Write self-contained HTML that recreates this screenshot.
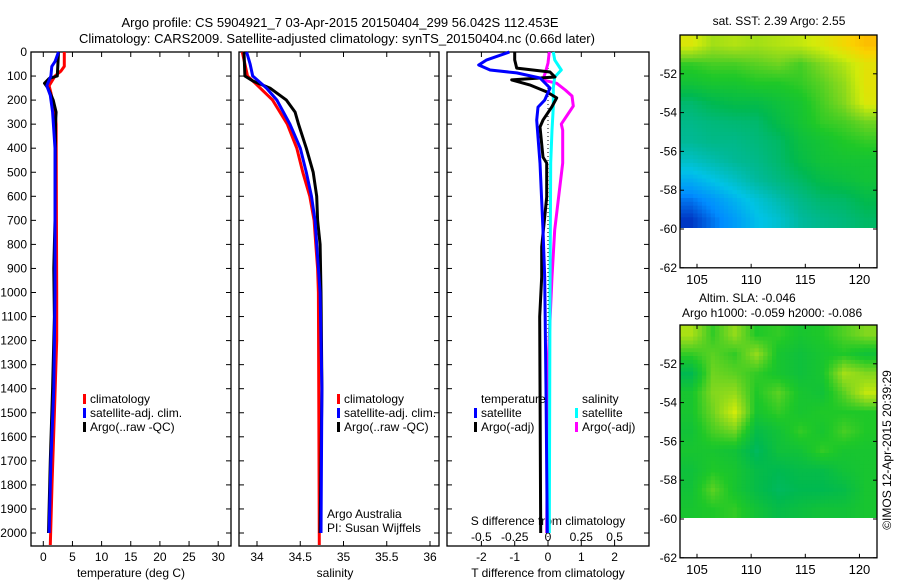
<!DOCTYPE html>
<html><head><meta charset="utf-8"><style>
html,body{margin:0;padding:0;background:#fff;}
svg{display:block;font-family:"Liberation Sans",sans-serif;}
</style></head><body>
<svg id="fig" width="900" height="580" viewBox="0 0 900 580">
<defs>
<clipPath id="c1"><rect x="680" y="35" width="197" height="193"/></clipPath>
<clipPath id="c2"><rect x="680" y="325" width="197" height="193"/></clipPath>
</defs>
<text x="340" y="27" font-size="13" text-anchor="middle">Argo profile: CS 5904921_7 03-Apr-2015 20150404_299 56.042S 112.453E</text>
<text x="337" y="43" font-size="13" text-anchor="middle">Climatology: CARS2009. Satellite-adjusted climatology: synTS_20150404.nc (0.66d later)</text>
<g id="axes"></g>
<g id="marks"></g>
<g id="maps"></g>
<text transform="translate(891,450) rotate(-90)" font-size="12" text-anchor="middle">©IMOS 12-Apr-2015 20:39:29</text>
</svg>
<script>
// ---- Panel 1: temperature
const tDepthClim=[0,60,80,100,140,170,250,300,1000,1200,1500,1800,2050];
const tClim=[3.6,3.6,3.0,2.0,1.0,1.3,2.0,2.2,2.3,2.3,1.9,1.5,1.2];
const tDepthSat=[0,40,60,100,140,180,250,400,1000,1400,1700,2000];
const tSat=[2.6,2.0,1.45,1.3,0.6,1.2,1.6,2.0,2.0,1.8,1.3,1.0];
const tDepthArgo=[0,50,100,110,130,150,200,250,300,700,900,1100,1400,1700,2000];
const tArgo=[2.6,2.5,2.4,1.0,0.2,0.8,1.7,2.2,2.1,2.0,1.8,1.9,1.6,1.2,0.9];
// ---- Panel 2: salinity
const sDepthClim=[0,100,130,200,300,400,500,600,700,800,900,1000,2050];
const sClim=[33.83,33.89,33.98,34.18,34.35,34.46,34.53,34.61,34.66,34.68,34.70,34.71,34.72];
const sDepthSat=[0,50,100,150,200,300,400,500,600,700,800,1000,1400,2000];
const sSat=[33.88,33.92,33.95,34.11,34.23,34.38,34.50,34.57,34.63,34.67,34.69,34.73,34.75,34.74];
const sDepthArgo=[0,100,120,150,200,250,300,400,500,600,700,800,1000,1400,2000];
const sArgo=[33.85,33.86,33.95,34.15,34.34,34.44,34.48,34.57,34.65,34.69,34.70,34.73,34.74,34.75,34.73];
// ---- Panel 3: differences
const dDepthTSat=[0,33,54,75,87,108,150,200,229,283,462,740,935,1400,2000];
const dTSat=[-1.16,-1.84,-2.08,-1.74,-0.94,-0.24,0.06,-0.1,-0.3,-0.34,-0.24,-0.15,-0.1,-0.06,-0.02];
const dDepthTArgo=[0,33,67,83,104,116,137,166,191,229,283,312,437,462,603,810,935,1100,2000];
const dTArgo=[-1.0,-1.0,-0.94,0.06,0.21,-1.09,-0.55,-0.04,0.26,0.11,-0.15,-0.24,-0.15,-0.04,-0.04,-0.19,-0.19,-0.25,-0.22];
const dDepthSSat=[0,33,75,104,150,229,325,462,1000,2000];
const dSSat=[0.04,0.05,0.10,0.05,0.04,0.04,0.03,0.02,0.015,0.01];
const dDepthSArgo=[0,46,87,116,130,158,183,225,258,300,325,462,600,740,935,1300,2000];
const dSArgo=[0.01,0.0,-0.02,-0.04,0.065,0.13,0.18,0.19,0.15,0.10,0.11,0.11,0.08,0.05,0.03,0.0,-0.01];
// ---- Map grids (rows -50..-60 by 1 deg, 9 lon columns)
const sstGrid=[
[0.82,0.74,0.76,0.74,0.76,0.78,0.82,0.88,0.94],
[0.62,0.64,0.64,0.66,0.68,0.64,0.70,0.76,0.84],
[0.56,0.58,0.58,0.60,0.60,0.62,0.66,0.72,0.84],
[0.46,0.50,0.52,0.52,0.55,0.58,0.64,0.70,0.82],
[0.42,0.44,0.45,0.46,0.52,0.57,0.62,0.64,0.68],
[0.40,0.42,0.42,0.44,0.47,0.54,0.57,0.60,0.62],
[0.34,0.37,0.40,0.42,0.46,0.52,0.56,0.57,0.57],
[0.26,0.30,0.34,0.39,0.43,0.47,0.52,0.54,0.56],
[0.18,0.22,0.27,0.32,0.37,0.42,0.46,0.47,0.51],
[0.13,0.18,0.23,0.29,0.33,0.39,0.42,0.44,0.47]];
const slaGrid=[
[0.75,0.62,0.72,0.60,0.62,0.58,0.60,0.65,0.70],
[0.62,0.66,0.62,0.72,0.58,0.55,0.58,0.60,0.56],
[0.50,0.68,0.66,0.62,0.58,0.55,0.58,0.74,0.70],
[0.58,0.70,0.72,0.60,0.66,0.58,0.56,0.66,0.78],
[0.58,0.68,0.80,0.58,0.62,0.58,0.60,0.60,0.60],
[0.56,0.64,0.68,0.52,0.56,0.62,0.58,0.64,0.60],
[0.58,0.58,0.56,0.48,0.55,0.56,0.62,0.58,0.58],
[0.55,0.60,0.58,0.52,0.50,0.52,0.52,0.56,0.58],
[0.56,0.66,0.58,0.52,0.48,0.50,0.50,0.52,0.58],
[0.58,0.60,0.62,0.56,0.52,0.54,0.56,0.56,0.58]];
const depthTicks=[0,100,200,300,400,500,600,700,800,900,1000,1100,1200,1300,1400,1500,1600,1700,1800,1900,2000];
const tTicks=[0,5,10,15,20,25,30];
const sTicks=[34,34.5,35,35.5,36];
const dTTicks=[-2,-1,0,1,2];
const dSTicks=[-0.5,-0.25,0,0.25,0.5];
const latTicks=[-52,-54,-56,-58,-60,-62];
const lonTicks=[105,110,115,120];

const NS='http://www.w3.org/2000/svg';
const axes=document.getElementById('axes'),marks=document.getElementById('marks'),maps=document.getElementById('maps');
function mk(tag,attrs,parent){const e=document.createElementNS(NS,tag);for(const k in attrs)e.setAttribute(k,attrs[k]);parent.appendChild(e);return e;}
const TOP=52,BOT=546;
const yD=d=>TOP+0.2405*d;
const xT=v=>43.3+5.83*v;
const xS=v=>257+86.5*(v-34);
const xDT=v=>548+33.3*v;
const xDS=v=>548+133.2*v;
const panels=[{l:31,r:231},{l:239,r:439},{l:447,r:649}];
panels.forEach((p,i)=>{
  const f=mk('rect',{x:p.l,y:TOP,width:p.r-p.l,height:BOT-TOP,fill:'none',stroke:'#000','stroke-width':1.3},axes);
  
  
  depthTicks.forEach(d=>{
    mk('line',{x1:p.l,x2:p.l+5,y1:yD(d),y2:yD(d),stroke:'#000'},axes);
    mk('line',{x1:p.r,x2:p.r-5,y1:yD(d),y2:yD(d),stroke:'#000'},axes);
  });
});
depthTicks.forEach(d=>{
  const t=mk('text',{x:27,y:yD(d)+4,'font-size':12,'text-anchor':'end'},axes);
  t.textContent=d;
  
  
});
function xticks(vals,fx,labels,ly,name){
  vals.forEach((v,i)=>{
    const x=fx(v);
    mk('line',{x1:x,x2:x,y1:TOP,y2:TOP+5,stroke:'#000'},axes);
    mk('line',{x1:x,x2:x,y1:BOT,y2:BOT-5,stroke:'#000'},axes);
    if(labels){const t=mk('text',{x:x,y:ly,'font-size':12,'text-anchor':'middle'},axes);t.textContent=labels[i];
      
      }
  });
}
xticks(tTicks,xT,tTicks,561,'temperature-tick-label');
xticks(sTicks,xS,sTicks,561,'salinity-tick-label');
xticks(dTTicks,xDT,dTTicks,561,'t-diff-tick-label');
dSTicks.forEach(v=>{const t=mk('text',{x:xDS(v),y:541,'font-size':12,'text-anchor':'middle'},axes);t.textContent=v;
  
  });
function label(x,y,s,name,anchor){const t=mk('text',{x:x,y:y,'font-size':12,'text-anchor':anchor||'middle'},axes);t.textContent=s;
  
  return t;}
label(131,577,'temperature (deg C)','x-axis-title-temperature');
label(335,577,'salinity','x-axis-title-salinity');
label(548,577,'T difference from climatology','x-axis-title-t-diff');
label(548,525,'S difference from climatology','x-axis-title-s-diff');
label(327,518,'Argo Australia','credit-argo-australia','start');
label(327,532,'PI: Susan Wijffels','credit-pi','start');
const z=mk('line',{x1:548,x2:548,y1:TOP,y2:BOT,stroke:'#000','stroke-dasharray':'1,3'},axes);



function line(ds,vs,fx,color,name){
  const pts=ds.map((d,i)=>fx(vs[i]).toFixed(1)+','+yD(d).toFixed(1)).join(' ');
  const e=mk('polyline',{points:pts,fill:'none',stroke:color,'stroke-width':3,'stroke-linejoin':'round'},marks);
  
  
}
line(tDepthClim,tClim,xT,'#f00','temp-climatology-line');
line(tDepthArgo,tArgo,xT,'#000','temp-argo-line');
line(tDepthSat,tSat,xT,'#00f','temp-satellite-line');
line(sDepthClim,sClim,xS,'#f00','sal-climatology-line');
line(sDepthArgo,sArgo,xS,'#000','sal-argo-line');
line(sDepthSat,sSat,xS,'#00f','sal-satellite-line');
line(dDepthSArgo,dSArgo,xDS,'#f0f','sdiff-argo-line');
line(dDepthSSat,dSSat,xDS,'#0ff','sdiff-satellite-line');
line(dDepthTArgo,dTArgo,xDT,'#000','tdiff-argo-line');
line(dDepthTSat,dTSat,xDT,'#00f','tdiff-satellite-line');

function legend(x,y,items,name){
  items.forEach((it,i)=>{
    if(it[1]){const b=mk('rect',{x:x,y:y+i*14-9,width:3,height:10,fill:it[1]},marks);
      
      }
    const t=mk('text',{x:x+7,y:y+i*14,'font-size':12},marks);t.textContent=it[0];
    
    
  });
}
legend(83,403,[['climatology','#f00'],['satellite-adj. clim.','#00f'],['Argo(..raw -QC)','#000']],'temp-legend');
legend(337,403,[['climatology','#f00'],['satellite-adj. clim.','#00f'],['Argo(..raw -QC)','#000']],'sal-legend');
legend(474,403,[['temperature',null],['satellite','#00f'],['Argo(-adj)','#000']],'tdiff-legend');
legend(575,403,[['salinity',null],['satellite','#0ff'],['Argo(-adj)','#f0f']],'sdiff-legend');

// ---- maps
const cmap=[[0.1,[0,20,170]],[0.2,[0,140,255]],[0.3,[0,195,230]],[0.4,[0,185,150]],[0.5,[0,185,80]],[0.6,[30,200,40]],[0.7,[130,215,30]],[0.8,[210,235,10]],[0.9,[250,210,0]],[1.0,[255,160,0]]];
function col(v){
  if(v<=cmap[0][0])return 'rgb('+cmap[0][1]+')';
  for(let i=1;i<cmap.length;i++){if(v<=cmap[i][0]){const a=cmap[i-1],b=cmap[i],f=(v-a[0])/(b[0]-a[0]);
    return 'rgb('+a[1].map((c,k)=>Math.round(c+(b[1][k]-c)*f)).join(',')+')';}}
  return 'rgb('+cmap[cmap.length-1][1]+')';
}
const lonL=103.43,lonR=121.62;
function sample(grid,fr,fc){ // bilinear sampling of grid at fractional row/col (cell centres)
  const R=grid.length,C=grid[0].length;
  const r=Math.min(Math.max(fr-0.5,0),R-1),c=Math.min(Math.max(fc-0.5,0),C-1);
  const r0=Math.floor(r),c0=Math.floor(c),r1=Math.min(r0+1,R-1),c1=Math.min(c0+1,C-1);
  const a=r-r0,b=c-c0;
  return grid[r0][c0]*(1-a)*(1-b)+grid[r0][c1]*(1-a)*b+grid[r1][c0]*a*(1-b)+grid[r1][c1]*a*b;
}
function drawMap(grid,top,clip,name){
  const yL=lat=>top+(-50-lat)*19.4;
  const xL=lon=>680+(lon-lonL)*10.83;
  const g=mk('g',{'clip-path':'url(#'+clip+')'},maps);
  const R=grid.length,C=grid[0].length,S=5;
  const cw=(lonR-lonL)/C;
  for(let i=0;i<R*S;i++)for(let j=0;j<C*S;j++){
    const v=sample(grid,(i+0.5)/S,(j+0.5)/S);
    const x0=xL(lonL+j*cw/S),x1=xL(lonL+(j+1)*cw/S);
    const y0=yL(-50-i/S),y1=yL(-50-(i+1)/S);
    const cell=mk('rect',{x:x0.toFixed(2),y:y0.toFixed(2),width:(x1-x0+0.6).toFixed(2),height:(y1-y0+0.6).toFixed(2),fill:col(v)},g);
    
    
  }
  const fr=mk('rect',{x:680,y:top,width:197,height:yL(-62)-top,fill:'none',stroke:'#000','stroke-width':1.3},maps);
  
  
  latTicks.forEach(l=>{const y=yL(l);
    mk('line',{x1:680,x2:684,y1:y,y2:y,stroke:'#000'},maps);
    mk('line',{x1:877,x2:873,y1:y,y2:y,stroke:'#000'},maps);
    const t=mk('text',{x:677,y:y+4,'font-size':12,'text-anchor':'end'},maps);t.textContent=l;
    
    });
  lonTicks.forEach(l=>{const x=xL(l);
    mk('line',{x1:x,x2:x,y1:top,y2:top+4,stroke:'#000'},maps);
    mk('line',{x1:x,x2:x,y1:yL(-62),y2:yL(-62)-4,stroke:'#000'},maps);
    const t=mk('text',{x:x,y:yL(-62)+16,'font-size':13,'text-anchor':'middle'},maps);t.textContent=l;
    
    });
}
drawMap(sstGrid,35,'c1','sst-map');
drawMap(slaGrid,325,'c2','sla-map');
label(779,25,'sat. SST: 2.39 Argo: 2.55','sst-map-title');
label(699,302,'Altim. SLA: -0.046','sla-map-title','start');
label(682,317,'Argo h1000: -0.059 h2000: -0.086','sla-map-subtitle','start');
</script>
</body></html>
